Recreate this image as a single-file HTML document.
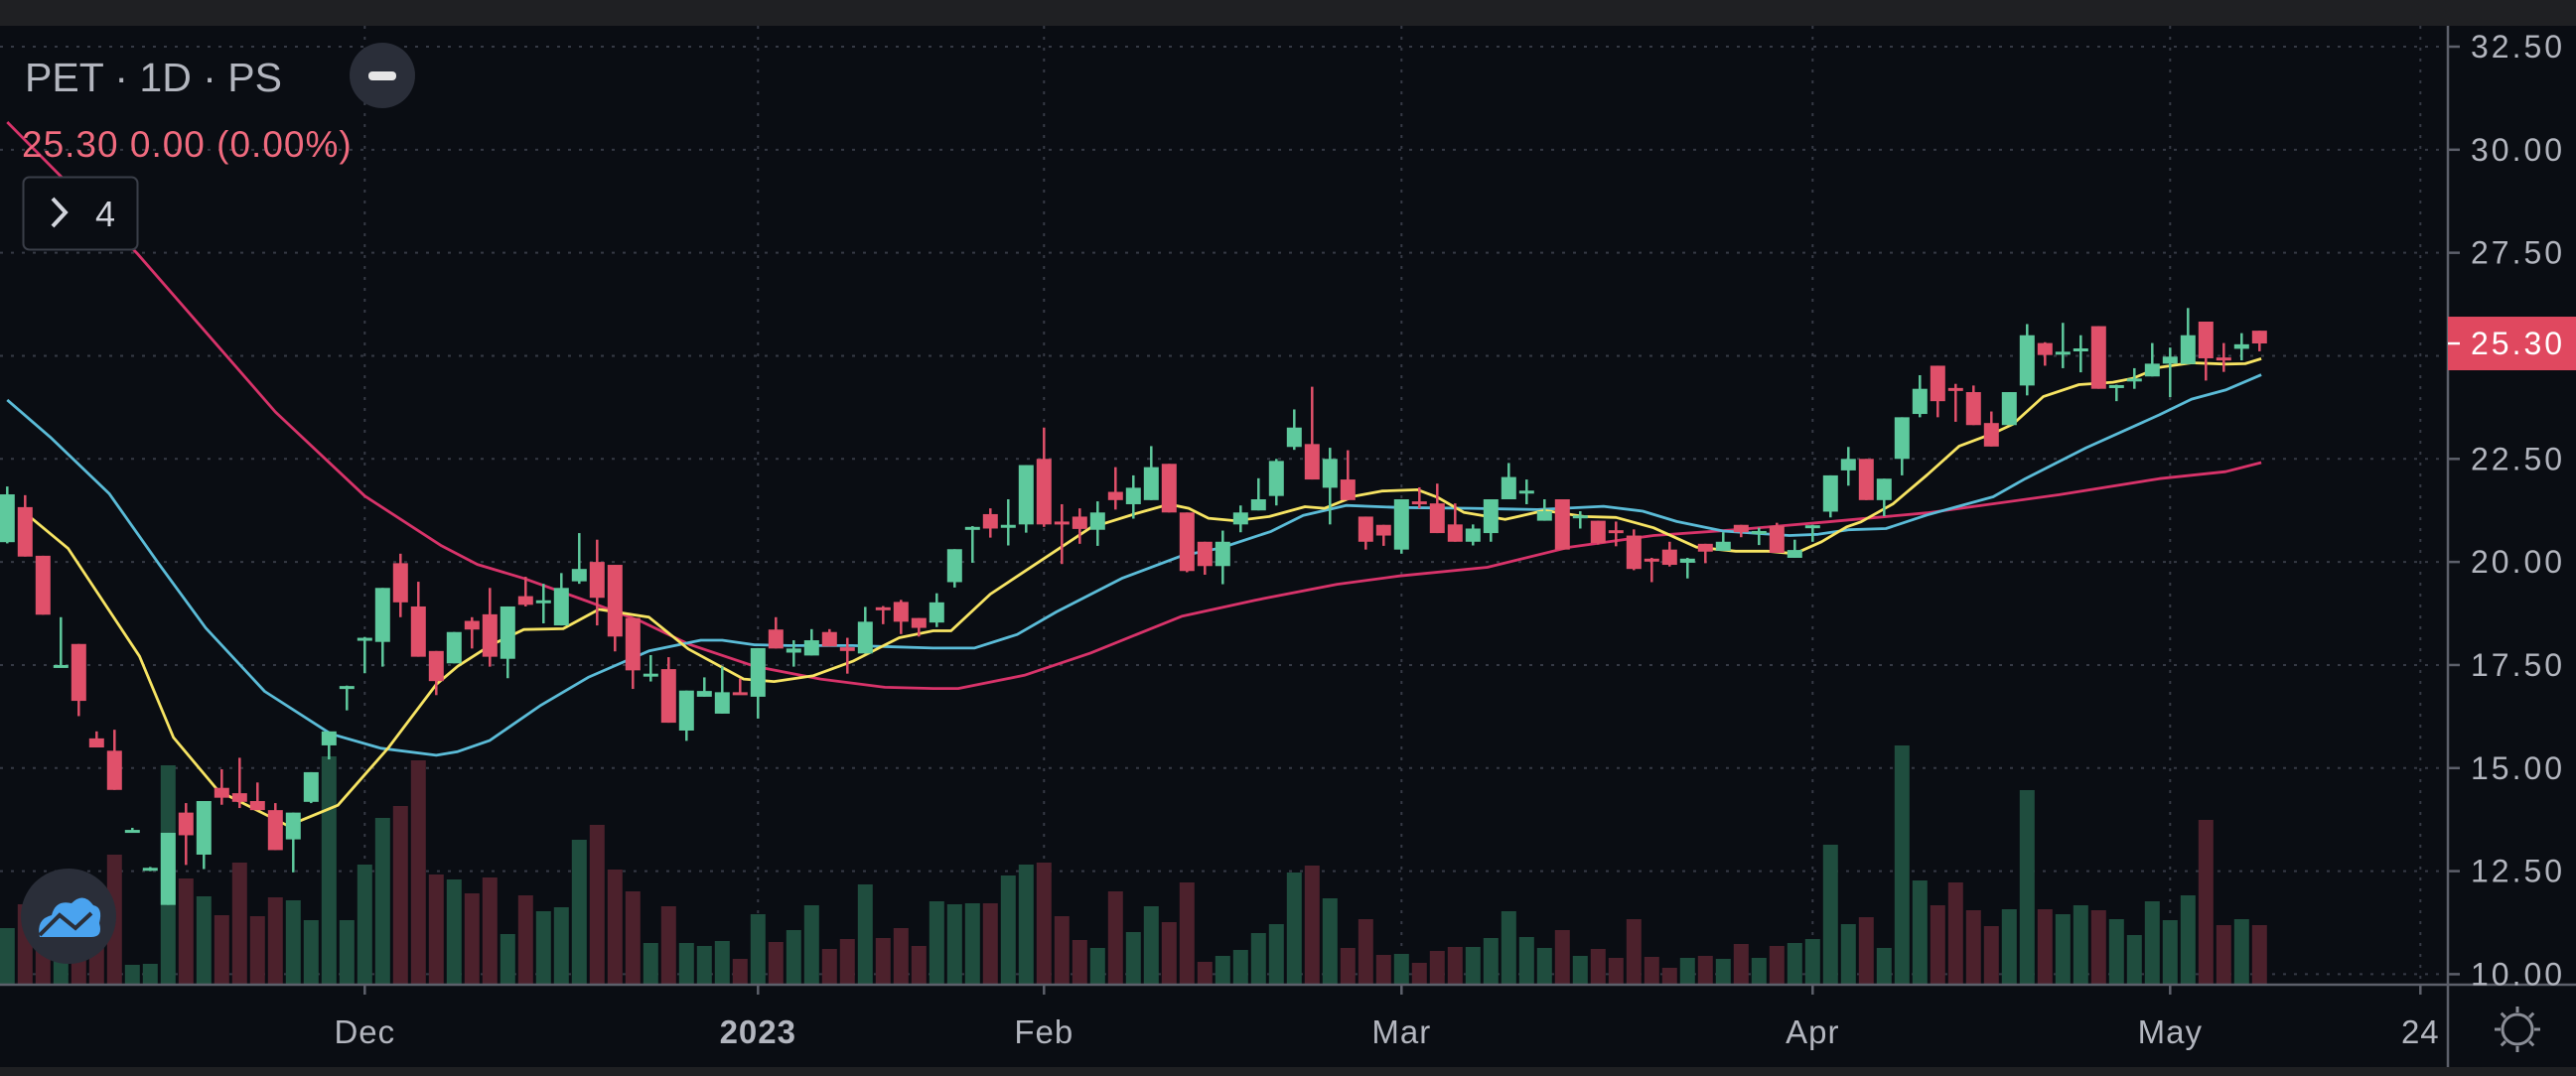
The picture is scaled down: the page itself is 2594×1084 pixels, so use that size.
<!DOCTYPE html>
<html><head><meta charset="utf-8"><title>PET 1D chart</title>
<style>
html,body{margin:0;padding:0;background:#0a0d13;}
body{width:2594px;height:1084px;overflow:hidden;position:relative;font-family:"Liberation Sans",sans-serif;}
#chart{position:absolute;left:0;top:0;}
</style></head>
<body>
<svg id="chart" width="2594" height="1084" viewBox="0 0 2594 1084" xmlns="http://www.w3.org/2000/svg">
  <rect x="0" y="0" width="2594" height="1084" fill="#0a0d13"/>
  <rect x="0" y="0" width="2594" height="26" fill="#1f2023"/>
  <rect x="0" y="1075" width="2594" height="9" fill="#1f2023"/>
  <g id="grid"></g>
  <g id="vols"></g>
  <g id="mas"></g>
  <g id="candles"></g>
  <g id="axes"></g>
  <g>
    <text x="25" y="92" font-size="41" fill="#b2b5be">PET · 1D · PS</text>
    <circle cx="385" cy="76" r="33" fill="#2a2e39"/>
    <rect x="371" y="72" width="28" height="9" rx="4" fill="#e6e6e6"/>
    <text x="22" y="158" font-size="37" letter-spacing="1" fill="#f06a7e">25.30 0.00 (0.00%)</text>
    <rect x="23.5" y="178.5" width="115" height="73" rx="6" fill="#0a0d13" stroke="#3a3e48" stroke-width="2"/>
    <path d="M53 200 L66 214 L53 228" fill="none" stroke="#d1d4dc" stroke-width="4"/>
    <text x="96" y="228" font-size="36" fill="#d1d4dc">4</text>
  </g>
  <g>
    <circle cx="69" cy="923" r="48" fill="#2a2e39"/>
    <path d="M40 944 Q36 926 52 922 Q56 906 72 910 Q84 898 94 912 Q104 914 100 930 Q104 944 92 944 Z" fill="#4aa3ef"/>
    <path d="M40 942 L60 922 L76 935 L92 920" fill="none" stroke="#2a2e39" stroke-width="4"/>
  </g>
</svg>
<script>
// ---- data ----
const opens=[20.48,21.33,20.15,17.45,18.01,15.72,15.42,13.45,12.53,11.68,13.92,12.9,14.52,14.39,14.2,13.98,13.27,14.18,15.55,16.95,18.13,18.06,19.97,18.92,17.84,17.54,18.57,18.73,17.65,19.17,19.05,18.46,19.53,20.0,19.93,18.64,17.26,17.4,15.91,16.73,16.32,16.84,16.73,18.36,17.8,17.73,18.3,17.93,17.78,18.9,19.03,18.64,18.53,19.51,20.82,21.16,20.87,20.91,22.5,20.98,21.1,20.78,21.7,21.4,21.5,22.38,21.2,20.49,19.9,20.91,21.25,21.6,22.79,22.86,21.8,22.0,21.1,20.9,20.3,21.47,21.42,20.91,20.49,20.7,21.52,21.7,21.0,21.52,21.1,21.0,20.77,20.64,20.08,20.3,19.98,20.44,20.27,20.9,20.73,20.88,20.1,20.86,21.22,22.22,22.5,21.5,22.5,23.59,24.76,24.22,24.12,23.37,23.32,24.28,25.31,25.07,25.15,25.72,24.26,24.4,24.5,24.81,24.8,25.83,24.96,25.17,25.61];
const closes=[21.64,20.13,18.72,17.5,16.63,15.5,14.47,13.5,12.58,13.43,13.37,14.2,14.28,14.18,13.98,13.01,13.92,14.9,15.89,16.99,18.16,19.37,19.02,17.7,17.11,18.3,18.36,17.7,18.92,18.96,19.07,19.37,19.83,19.13,18.19,17.37,17.29,16.1,16.88,16.87,16.84,16.8,17.91,17.9,17.9,18.1,17.95,17.84,18.55,18.87,18.55,18.4,19.02,20.31,20.85,20.81,20.9,22.35,20.91,20.95,20.8,21.2,21.5,21.8,22.3,21.2,19.78,19.9,20.49,21.2,21.52,22.45,23.26,22.0,22.5,21.5,20.49,20.64,21.52,21.4,20.7,20.49,20.81,21.52,22.06,21.73,21.23,20.3,21.13,20.46,20.75,19.83,20.05,19.93,20.08,20.25,20.49,20.72,20.75,20.22,20.29,20.89,22.1,22.5,21.5,22.02,23.51,24.2,23.9,24.18,23.32,22.8,24.12,25.5,25.02,25.1,25.18,24.2,24.29,24.45,24.81,24.98,25.5,24.94,24.94,25.28,25.3];
const highs=[21.83,21.62,20.15,18.66,18.01,15.89,15.93,13.55,12.6,13.43,14.15,14.2,14.97,15.25,14.65,14.15,13.92,14.9,15.89,17.0,18.18,19.37,20.2,19.52,17.84,18.3,18.66,19.37,18.92,19.64,19.47,19.73,20.7,20.54,19.93,18.64,17.74,17.69,16.88,17.2,17.46,17.17,17.91,18.66,18.1,18.37,18.37,18.16,18.91,18.93,19.08,18.64,19.24,20.31,20.87,21.3,21.52,22.35,23.26,21.4,21.3,21.47,22.3,22.1,22.81,22.38,21.2,20.49,20.76,21.37,22.03,22.5,23.7,24.25,22.77,22.71,21.1,20.9,21.52,21.81,21.9,21.42,20.91,21.52,22.4,22.0,21.52,21.52,21.23,21.0,20.98,20.79,20.1,20.49,20.1,20.44,20.72,20.9,20.83,20.95,20.54,20.9,22.1,22.79,22.5,22.02,23.51,24.53,24.76,24.32,24.28,23.65,24.12,25.77,25.33,25.8,25.5,25.72,24.3,24.7,25.31,25.2,26.16,25.83,25.31,25.55,25.61];
const lows=[20.45,20.13,18.72,17.45,16.26,15.5,14.47,13.45,12.5,11.68,12.65,12.55,14.11,14.03,13.98,13.01,12.47,14.15,15.21,16.4,17.3,17.46,18.66,17.7,16.77,17.54,17.9,17.46,17.18,18.92,18.51,18.46,19.47,18.46,17.83,16.92,17.1,16.1,15.66,16.73,16.32,16.8,16.2,17.9,17.46,17.73,17.95,17.29,17.78,18.49,18.25,18.19,18.42,19.38,19.98,20.59,20.4,20.71,20.85,19.95,20.44,20.39,21.27,21.05,21.5,21.2,19.75,19.69,19.46,20.72,21.25,21.37,22.72,22.0,20.91,21.5,20.3,20.39,20.2,21.3,20.7,20.49,20.4,20.49,21.52,21.4,21.0,20.3,20.81,20.42,20.38,19.8,19.51,19.89,19.6,19.97,20.27,20.6,20.41,20.22,20.1,20.49,21.08,21.85,21.5,21.11,22.1,23.51,23.51,23.4,23.32,22.8,23.32,24.04,24.76,24.7,24.6,24.2,23.9,24.2,24.5,24.0,24.8,24.4,24.61,24.89,25.11];
const volumes=[57,81,70,65,60,72,131,20,21,221,107,89,70,123,69,88,85,65,230,65,121,168,180,226,111,106,92,108,51,90,74,78,146,161,116,94,42,79,42,39,44,26,71,43,55,80,36,46,101,47,57,39,84,81,82,82,110,121,123,69,45,37,94,53,79,63,103,23,29,35,52,61,113,120,87,37,66,30,31,22,34,38,38,47,74,48,37,55,29,36,27,66,28,17,27,29,26,41,27,39,42,46,141,61,68,37,241,105,80,103,75,59,76,196,76,71,80,75,66,50,84,65,90,166,60,66,60];
const maFastIdx=[1,3.4,7.4,9.3,11.8,15.7,18.5,21.3,24,25.2,27,28.9,31.1,33.1,35.9,38.1,41.2,42.9,45.1,47.3,49.9,51.8,52.8,55,57.6,60.6,63.2,65,66.1,67.2,68.7,70.6,72.6,73.7,75.4,76.9,78.9,80,81.5,83.8,86,88.2,90,92.1,94.5,96.7,98.5,100,101.5,102.9,103.7,105.5,107.4,109.2,111.1,112.2,113.9,115.9,117.8,118.9,120.4,122.2,124.1,125.2,126.1];
const maFastVal=[21.19,20.33,17.71,15.74,14.45,13.6,14.1,15.48,17.03,17.47,17.97,18.36,18.38,18.85,18.66,17.89,17.16,17.1,17.24,17.59,18.16,18.33,18.33,19.22,19.97,20.83,21.18,21.4,21.3,21.06,21.0,21.1,21.34,21.3,21.6,21.72,21.75,21.57,21.2,21.03,21.25,21.1,21.08,20.83,20.36,20.26,20.26,20.2,20.49,20.85,20.97,21.41,22.11,22.81,23.12,23.34,24.01,24.3,24.36,24.45,24.72,24.83,24.8,24.81,24.93];
const maMidIdx=[0,2.4,5.7,8.5,11.1,14.4,18.1,20.9,24,25.2,27,29.8,32.5,35.9,38.8,40,41.8,43.7,47.3,51.8,54.1,56.5,58.7,62.4,65.7,67.9,70.7,72.5,74.9,77.9,81.9,85.6,89.3,91.5,93.4,96,99.7,101.3,103,105.1,107.4,111.1,112.9,116.3,120.4,122.2,124.1,126.1];
const maMidVal=[23.93,23.03,21.66,19.94,18.4,16.86,15.83,15.48,15.31,15.4,15.67,16.51,17.2,17.84,18.1,18.1,17.99,17.97,17.97,17.91,17.91,18.24,18.79,19.61,20.15,20.34,20.74,21.13,21.37,21.32,21.3,21.27,21.35,21.23,20.98,20.75,20.64,20.67,20.78,20.81,21.14,21.58,22.02,22.77,23.57,23.95,24.17,24.54];
const maSlowIdx=[0,7.3,15,20,24.3,26.3,28.9,32.5,35.4,38.1,41.8,45.5,49.1,51.8,53.2,56.9,60.6,65.7,69.8,74.4,77.9,82.8,87.4,92.1,96.7,101.8,107.4,114.8,120.4,124.1,126.1];
const maSlowVal=[30.67,27.47,23.64,21.6,20.39,19.94,19.6,19.04,18.57,18.01,17.47,17.16,16.96,16.93,16.93,17.25,17.79,18.68,19.07,19.46,19.66,19.87,20.36,20.64,20.78,20.97,21.19,21.63,22.02,22.19,22.41];
const priceTicks=[32.5,30,27.5,25,22.5,20,17.5,15,12.5,10];
const dateLabels=["Dec","2023","Feb","Mar","Apr","May","24"];
const dateIdx=[20,42,58,78,101,121,135];
const lastPrice=25.30;

// ---- scales ----
const NS="http://www.w3.org/2000/svg";
function xs(i){return 7.3+18*i;}
function ys(p){return 47+(32.5-p)*41.53;}
function yv(v){return 992-v*1.0;}
const AXIS_X=2465, AXIS_Y=992;
function mk(tag,attrs,parent){const e=document.createElementNS(NS,tag);for(const k in attrs)e.setAttribute(k,attrs[k]);parent.appendChild(e);return e;}

const grid=document.getElementById('grid');
priceTicks.forEach(p=>{
  const l=mk('line',{x1:0,x2:AXIS_X,y1:ys(p),y2:ys(p),stroke:'#363a45','stroke-width':2,'stroke-dasharray':'3 8'},grid);
  
  
});
dateIdx.forEach(i=>{
  const l=mk('line',{x1:xs(i),x2:xs(i),y1:26,y2:AXIS_Y,stroke:'#363a45','stroke-width':2,'stroke-dasharray':'3 8'},grid);
  
  
});

const vols=document.getElementById('vols');
volumes.forEach((v,i)=>{
  const up=closes[i]>=opens[i];
  const r=mk('rect',{x:xs(i)-7.5,y:yv(v),width:15,height:AXIS_Y-yv(v),fill:up?'#1f4d3e':'#4c212c'},vols);
  
  
});

const mas=document.getElementById('mas');
function drawMA(idx,val,color,name){
  const pts=idx.map((k,j)=>xs(k).toFixed(1)+','+ys(val[j]).toFixed(1)).join(' ');
  const pl=mk('polyline',{points:pts,fill:'none',stroke:color,'stroke-width':2.8,'stroke-linejoin':'round'},mas);
  
  
}
drawMA(maSlowIdx,maSlowVal,'#d8336a','ma-slow-line');
drawMA(maMidIdx,maMidVal,'#5bbcd8','ma-mid-line');
drawMA(maFastIdx,maFastVal,'#f7e463','ma-fast-line');

const cg=document.getElementById('candles');
opens.forEach((o,i)=>{
  const c=closes[i],up=c>=o,col=up?'#5ec99d':'#e0506a';
  const g=mk('g',{},cg);
  
  
  mk('rect',{x:xs(i)-1.25,y:ys(highs[i]),width:2.5,height:Math.max(1,ys(lows[i])-ys(highs[i])),fill:col},g);
  const top=ys(Math.max(o,c)),h=Math.max(3,Math.abs(ys(o)-ys(c)));
  mk('rect',{x:xs(i)-7.5,y:top,width:15,height:h,fill:col},g);
});

const ax=document.getElementById('axes');
let e=mk('line',{x1:AXIS_X,x2:AXIS_X,y1:26,y2:1075,stroke:'#5d606b','stroke-width':2.5},ax);


e=mk('line',{x1:0,x2:2594,y1:AXIS_Y,y2:AXIS_Y,stroke:'#5d606b','stroke-width':2.5},ax);


priceTicks.forEach(p=>{
  const t=mk('line',{x1:AXIS_X,x2:AXIS_X+12,y1:ys(p),y2:ys(p),stroke:'#5d606b','stroke-width':2.5},ax);
  
  
  const tx=mk('text',{x:2488,y:ys(p)+11,'font-size':32,fill:'#b2b5be','letter-spacing':'3'},ax);
  tx.textContent=p.toFixed(2);
  
  
});
e=mk('rect',{x:AXIS_X,y:ys(lastPrice)-27,width:129,height:54,fill:'#e0485f'},ax);


e=mk('line',{x1:AXIS_X,x2:AXIS_X+12,y1:ys(lastPrice),y2:ys(lastPrice),stroke:'#ffffff','stroke-width':2.5},ax);


e=mk('text',{x:2488,y:ys(lastPrice)+11,'font-size':32,fill:'#ffffff','letter-spacing':'3'},ax);
e.textContent=lastPrice.toFixed(2);


dateLabels.forEach((d,j)=>{
  const x=xs(dateIdx[j]);
  const t=mk('line',{x1:x,x2:x,y1:AXIS_Y,y2:AXIS_Y+10,stroke:'#5d606b','stroke-width':2.5},ax);
  
  
  const tx=mk('text',{x:x,y:1051,'font-size':33,fill:'#b2b5be','text-anchor':'middle','letter-spacing':'1','font-weight':d==='2023'?'bold':'normal'},ax);
  tx.textContent=d;
  
  
});
// settings sun icon
const sun=mk('g',{stroke:'#8a8d96','stroke-width':3,fill:'none'},ax);


mk('circle',{cx:2535,cy:1037,r:15},sun);
for(let k=0;k<8;k++){const a=k*Math.PI/4;mk('line',{x1:2535+Math.cos(a)*17,y1:1037+Math.sin(a)*17,x2:2535+Math.cos(a)*23,y2:1037+Math.sin(a)*23},sun);}
</script>
</body></html>
